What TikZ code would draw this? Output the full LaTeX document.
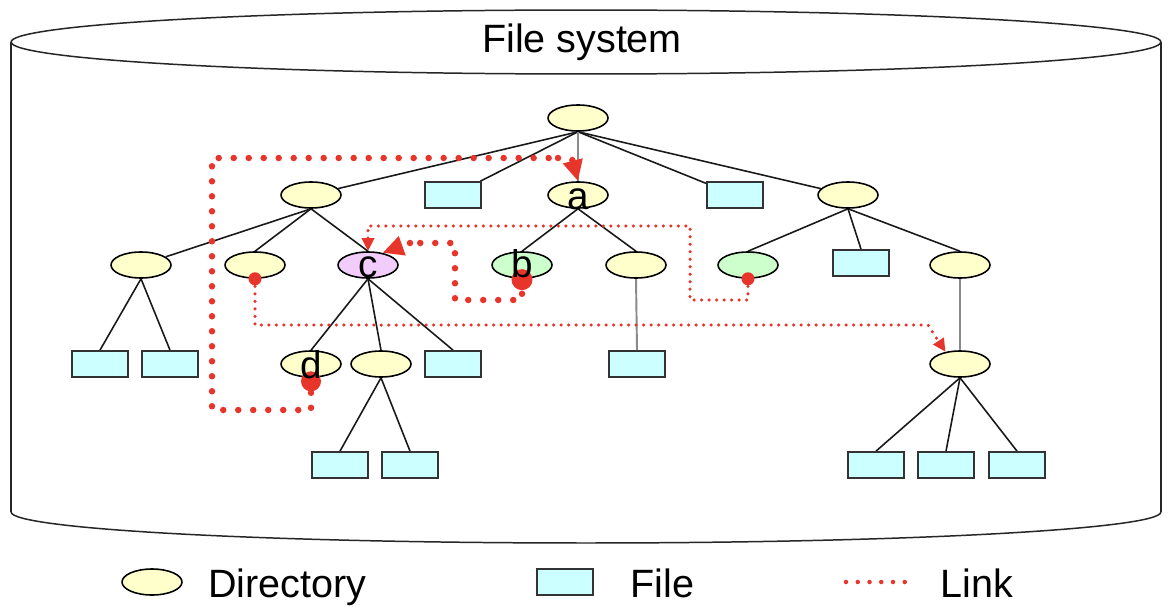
\documentclass[tikz,border=0pt]{standalone}
\usepackage{fontspec}
\setmainfont{Liberation Sans}
\usetikzlibrary{arrows.meta,shapes.geometric}
\definecolor{diry}{HTML}{FFFFCC}
\definecolor{filec}{HTML}{CCFFFF}
\definecolor{dirg}{HTML}{CCFFCC}
\definecolor{dirp}{HTML}{F2CCFA}
\definecolor{linkred}{HTML}{E8352B}
\definecolor{edgegray}{HTML}{8A8A8A}
\pgfdeclarelayer{bg}
\pgfsetlayers{bg,main}
\begin{document}
\begin{tikzpicture}[x=0.02cm,y=-0.02cm,
  dirnode/.style={draw=black, line width=0.9pt, ellipse, fill=diry, minimum width=1.2cm, minimum height=0.52cm, inner sep=0pt},
  filenode/.style={draw=black!80, line width=1pt, rectangle, fill=filec, minimum width=1.12cm, minimum height=0.52cm, inner sep=0pt},
  tedge/.style={line width=0.9pt, black!90},
  gedge/.style={line width=1.1pt, edgegray},
  cyl/.style={line width=0.85pt, black!85},
  thicklink/.style={linkred, line width=0.13cm, line cap=round, dash pattern=on 0pt off 0.3cm},
  thinlink/.style={linkred, line width=0.07cm, line cap=round, dash pattern=on 0pt off 0.15cm},
  leglink/.style={linkred, line width=0.09cm, line cap=round, dash pattern=on 0pt off 0.235cm},
  bigtip/.style={-{Triangle[length=0.42cm,width=0.38cm]}},
  smalltip/.style={-{Triangle[length=0.26cm,width=0.24cm]}},
  reddot/.style={circle, fill=linkred, inner sep=0pt},
  lbl/.style={font=\fontsize{22}{22}\selectfont, anchor=base, inner sep=0pt},
  big/.style={font=\fontsize{22.5}{24}\selectfont, inner sep=0pt},
]
\useasboundingbox (0,0) rectangle (1172,608);

% cylinder
\begin{pgfonlayer}{bg}
\fill[white] (0,0) rectangle (1172,608);
\draw[cyl] (586,42) ellipse [x radius=11.5cm, y radius=0.64cm];
\draw[cyl] (11,42) -- (11,512);
\draw[cyl] (1161,42) -- (1161,512);
\begin{scope}
\clip (0,512) rectangle (1172,608);
\draw[cyl] (586,512) ellipse [x radius=11.5cm, y radius=0.62cm];
\end{scope}
\end{pgfonlayer}
\node[big, anchor=base] (title) at (582,53) {File system};

% level 0 and 1
\node[dirnode] (root) at (578,118) {};
\node[dirnode] (l1a) at (311,195) {};
\node[filenode] (l1f1) at (453,195) {};
\node[dirnode] (a) at (578,195) {};
\node[filenode] (l1f2) at (735,195) {};
\node[dirnode] (l1e) at (848,195) {};
% level 2
\node[dirnode] (l2a) at (141,265) {};
\node[dirnode] (l2b) at (255,265) {};
\node[dirnode, fill=dirp] (c) at (368,265) {};
\node[dirnode, fill=dirg] (b) at (522,265) {};
\node[dirnode] (l2e) at (636,265) {};
\node[dirnode, fill=dirg] (l2g) at (748,265) {};
\node[filenode] (l2f) at (861,263) {};
\node[dirnode] (l2h) at (960,265) {};
% level 3
\node[filenode] (l3f1) at (100,364) {};
\node[filenode] (l3f2) at (170,364) {};
\node[dirnode] (d) at (311,364) {};
\node[dirnode] (l3e) at (381,364) {};
\node[filenode] (l3f3) at (453,364) {};
\node[filenode] (l3f4) at (637,364) {};
\node[dirnode] (l3h) at (960,364) {};
% level 4
\node[filenode] (l4f1) at (340,465) {};
\node[filenode] (l4f2) at (410,465) {};
\node[filenode] (l4f3) at (876,465) {};
\node[filenode] (l4f4) at (946,465) {};
\node[filenode] (l4f5) at (1017,465) {};

% tree edges
\begin{pgfonlayer}{bg}
\draw[tedge] (root.south) -- (l1a);
\draw[tedge] (root.south) -- (l1f1);
\draw[tedge] (root.south) -- (l1f2);
\draw[tedge] (root.south) -- (l1e);
\draw[gedge] (root.south) -- (a.north);
\draw[tedge] (l1a.south) -- (l2a);
\draw[tedge] (l1a.south) -- (l2b.north);
\draw[tedge] (l1a.south) -- (c.north);
\draw[tedge] (a.south) -- (b.north);
\draw[tedge] (a.south) -- (l2e.north);
\draw[tedge] (l1e.south) -- (l2g.north);
\draw[tedge] (l1e.south) -- (l2f.north);
\draw[tedge] (l1e.south) -- (l2h.north);
\draw[tedge] (l2a.south) -- (l3f1.north);
\draw[tedge] (l2a.south) -- (l3f2.north);
\draw[tedge] (c.south) -- (d.north);
\draw[tedge] (c.south) -- (l3e.north);
\draw[tedge] (c.south) -- (l3f3.north);
\draw[gedge] (l2e.south) -- (l3f4.north);
\draw[gedge] (l2h.south) -- (l3h.north);
\draw[tedge] (l3e.south) -- (l4f1.north);
\draw[tedge] (l3e.south) -- (l4f2.north);
\draw[tedge] (l3h.south) -- (l4f3.north);
\draw[tedge] (l3h.south) -- (l4f4.north);
\draw[tedge] (l3h.south) -- (l4f5.north);
\end{pgfonlayer}

% links
\draw[thicklink] (d.south) -- (311,410) -- (212,410) -- (212,158) -- (558,158);
\draw[thicklink, bigtip] (558,158) .. controls (572,158) .. (a.north);
\draw[thicklink] (b.south) -- (522,300) -- (455,300) -- (455,243) -- (410,243);
\draw[thicklink, bigtip] (410,243) -- (c.40);
\draw[thinlink, smalltip] (l2g.south) -- (748,300) -- (690,300) -- (690,226) -- (368,226) -- (c.north);
\draw[thinlink, smalltip] (l2b.south) -- (255,325) -- (928,325) -- (l3h.140);
\node[reddot, minimum size=0.42cm] (bdot) at ([yshift=-0.5pt]b.south) {};
\node[reddot, minimum size=0.40cm] (ddot) at ([yshift=-2pt]d.south) {};
\node[reddot, minimum size=0.26cm] (l2bdot) at (l2b.south) {};
\node[reddot, minimum size=0.26cm] (l2gdot) at (l2g.south) {};

% letters
\node[lbl] (la) at (578,209) {a};
\node[lbl] (lb) at (522,277) {b};
\node[lbl] (lc) at (368,277) {c};
\node[lbl] (ld) at (311,378) {d};

% legend
\node[dirnode] (legdir) at (152,582) {};
\node[big, anchor=base west] (legdirt) at (208,597) {Directory};
\node[filenode] (legfile) at (565,582) {};
\node[big, anchor=base west] (legfilet) at (630,597) {File};
\coordinate (lk1) at (846,582);
\coordinate (lk2) at (916,582);
\draw[leglink] (lk1) -- (lk2);
\node[big, anchor=base west] (leglinkt) at (940,597) {Link};
\end{tikzpicture}
\end{document}
